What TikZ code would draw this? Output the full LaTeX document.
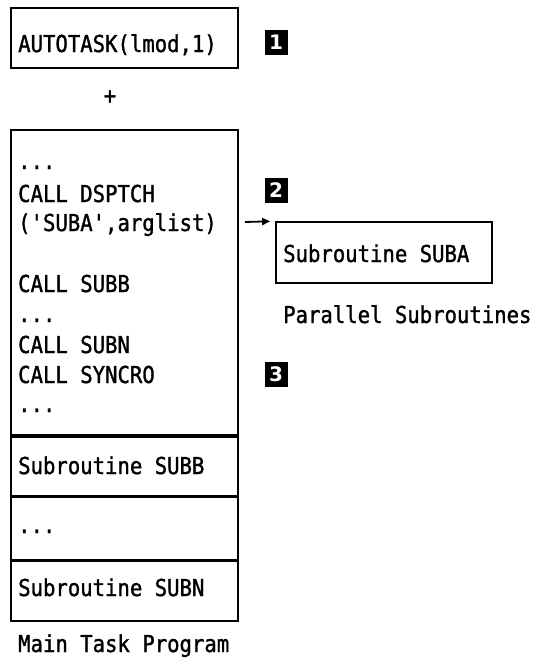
\documentclass[tikz,border=0pt]{standalone}
\usepackage{fontspec}
\setmonofont[FakeStretch=0.885, FakeBold=1.3]{DejaVu Sans Mono}
\setsansfont{DejaVu Sans}
\usetikzlibrary{arrows.meta}
\begin{document}
\begin{tikzpicture}[x=1pt,y=-1pt,
  code/.style={font=\ttfamily\fontsize{23.3}{28}\selectfont, inner sep=0pt, anchor=base west},
  frame/.style={draw, line width=1.7pt, inner sep=0pt, minimum width=227pt},
  badge/.style={fill=black, text=white, font=\sffamily\bfseries\fontsize{20}{20}\selectfont,
                minimum width=23pt, minimum height=25pt, inner sep=0pt}]
\useasboundingbox (0,0) rectangle (538,662);

% AUTOTASK call
\node[frame, minimum height=60pt] (auto) at (124.5,38) {};
\node[code] (autotxt) at (18,52) {AUTOTASK(lmod,1)};
\node[badge] (b1) at (276,42) {1};
\node[code, anchor=center] (plus) at (110,97) {+};

% main task program, stacked sections
\node[frame, minimum height=305pt] (sec1) at (124.5,282.5) {};
\node[frame, minimum height=59pt, anchor=north] (sec2) at (sec1.south) {};
\node[frame, minimum height=62pt, anchor=north] (sec3) at (sec2.south) {};
\node[frame, minimum height=60pt, anchor=north] (sec4) at (sec3.south) {};

\node[code] (l1) at (18,169) {...};
\node[code] (l2) at (18,202) {CALL DSPTCH};
\node[code] (l3) at (18,231) {('SUBA',arglist)};
\node[code] (l4) at (18,292) {CALL SUBB};
\node[code] (l5) at (18,322) {...};
\node[code] (l6) at (18,353) {CALL SUBN};
\node[code] (l7) at (18,383) {CALL SYNCRO};
\node[code] (l8) at (18,412) {...};
\node[code] (subb) at (18,474) {Subroutine SUBB};
\node[code] (dots) at (18,533) {...};
\node[code] (subn) at (18,596) {Subroutine SUBN};
\node[code] (maincap) at (18,652) {Main Task Program};

\node[badge] (b2) at (276,190) {2};
\node[badge] (b3) at (276,374) {3};

% parallel subroutine
\node[frame, minimum width=216pt, minimum height=61pt] (suba) at (384,252.5) {};
\node[code] (subatxt) at (283,262) {Subroutine SUBA};
\node[code] (parcap) at (283,323) {Parallel Subroutines};

\coordinate (src) at (245,222);
\draw[line width=1.8pt, -{Triangle[length=8pt,width=7pt]}, shorten >=5pt] (src) -- (suba.north west);
\end{tikzpicture}
\end{document}
